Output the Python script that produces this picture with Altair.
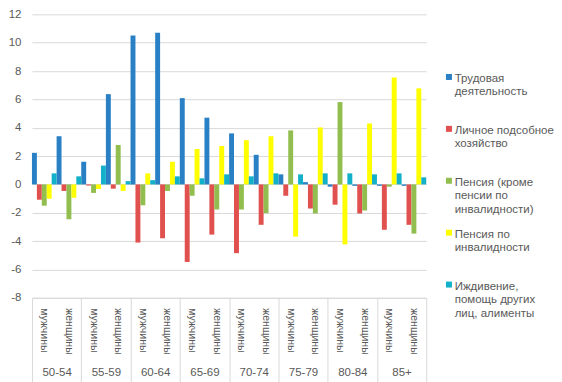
import altair as alt
import pandas as pd

ages = ["50-54", "55-59", "60-64", "65-69", "70-74", "75-79", "80-84", "85+"]
sexes = ["мужчины", "женщины"]

series = [
    "Трудовая\nдеятельность",
    "Личное подсобное\nхозяйство",
    "Пенсия (кроме\nпенсии по\nинвалидности)",
    "\u00a0Пенсия по\nинвалидности",
    "Иждивение,\nпомощь других\nлиц, алименты",
]
colors = ["#2A80C4", "#E0504E", "#92BE50", "#FFFF00", "#12B1C9"]

# values in order: 50-54 м, 50-54 ж, 55-59 м, 55-59 ж, ...
trud = [2.23, 3.40, 1.60, 6.37, 10.50, 10.70, 6.09, 4.71, 3.60, 2.09, 0.71, 0.16, -0.16, -0.10, -0.10, -0.10]
lph = [-1.08, -0.46, -0.08, -0.30, -4.10, -3.80, -5.47, -3.54, -4.85, -2.85, -0.80, -1.70, -1.43, -2.05, -3.20, -2.85]
pens = [-1.50, -2.46, -0.60, 2.78, -1.47, -0.46, -0.80, -1.77, -1.77, -2.03, 3.81, -2.05, 5.81, -1.84, -0.16, -3.47]
inv = [-1.01, -0.94, -0.32, -0.46, 0.78, 1.60, 2.50, 2.71, 3.12, 3.40, -3.68, 4.02, -4.23, 4.30, 7.54, 6.78]
izh = [0.78, 0.57, 1.33, 0.23, 0.30, 0.57, 0.43, 0.71, 0.57, 0.78, 0.71, 0.78, 0.78, 0.71, 0.78, 0.50]
values = [trud, lph, pens, inv, izh]

cats = [f"{a}|{s}" for a in ages for s in sexes]
rows = []
for si, name in enumerate(series):
    for ci, c in enumerate(cats):
        rows.append({"cat": c, "age": c.split("|")[0], "series": name, "value": values[si][ci]})
df = pd.DataFrame(rows)

FONT = "Liberation Sans"
GRAY = "#595959"
LINE = "#D9D9D9"


def yenc():
    return alt.Y(
        "value:Q",
        scale=alt.Scale(domain=[-8, 12], nice=False, zero=False),
        axis=alt.Axis(
            values=list(range(-8, 13, 2)), title=None, domain=False, ticks=False,
            gridColor=LINE, labelPadding=11, labelColor=GRAY, labelFontSize=11.5,
            labelFont=FONT, minExtent=24, maxExtent=24,
            labelExpr="toString(datum.value)",
        ),
    )


bars = alt.Chart(df).mark_bar().encode(
    x=alt.X(
        "cat:N", sort=cats,
        scale=alt.Scale(paddingInner=0, paddingOuter=0),
        axis=alt.Axis(
            title=None, labelAngle=90, labelExpr="split(datum.label, '|')[1]",
            labelAlign="left", labelBaseline="middle",
            ticks=False, domainColor=LINE, labelPadding=10, labelColor=GRAY,
            labelFontSize=10.5, labelFont=FONT, orient="bottom",
        ),
    ),
    xOffset=alt.XOffset("series:N", sort=series, scale=alt.Scale(paddingInner=0, paddingOuter=0)),
    y=yenc(),
    color=alt.Color(
        "series:N", sort=series,
        scale=alt.Scale(domain=series, range=colors),
        legend=alt.Legend(
            title=None, orient="none", legendX=412, legendY=53,
            symbolType="M-1,0.33L1,0.33L1,2.33L-1,2.33Z", symbolSize=36, symbolStrokeWidth=0,
            labelExpr="split(datum.label, '\\n')", labelFontSize=11.5,
            labelFont=FONT, labelColor=GRAY, labelOffset=0, labelLimit=200,
            rowPadding=7, gridAlign="all", labelBaseline="top", padding=0,
        ),
    ),
)

agelayer = alt.Chart(df).mark_point(opacity=0).encode(
    x=alt.X(
        "age:N", sort=ages,
        scale=alt.Scale(paddingInner=0, paddingOuter=0),
        axis=alt.Axis(
            title=None, orient="bottom", labelAngle=0, tickBand="extent",
            tickSize=84, tickColor=LINE, domain=False, labelPadding=-15,
            labelColor=GRAY, labelFontSize=11.5, labelFont=FONT,
        ),
    ),
    y=yenc(),
)

chart = (
    alt.layer(bars, agelayer)
    .resolve_scale(x="independent")
    .properties(width=395, height=284, padding={"left": 0, "top": 0, "right": 0, "bottom": 0})
    .configure_view(stroke=None)
)

chart.save("out.html", embed_options={"renderer": "svg", "actions": False})
